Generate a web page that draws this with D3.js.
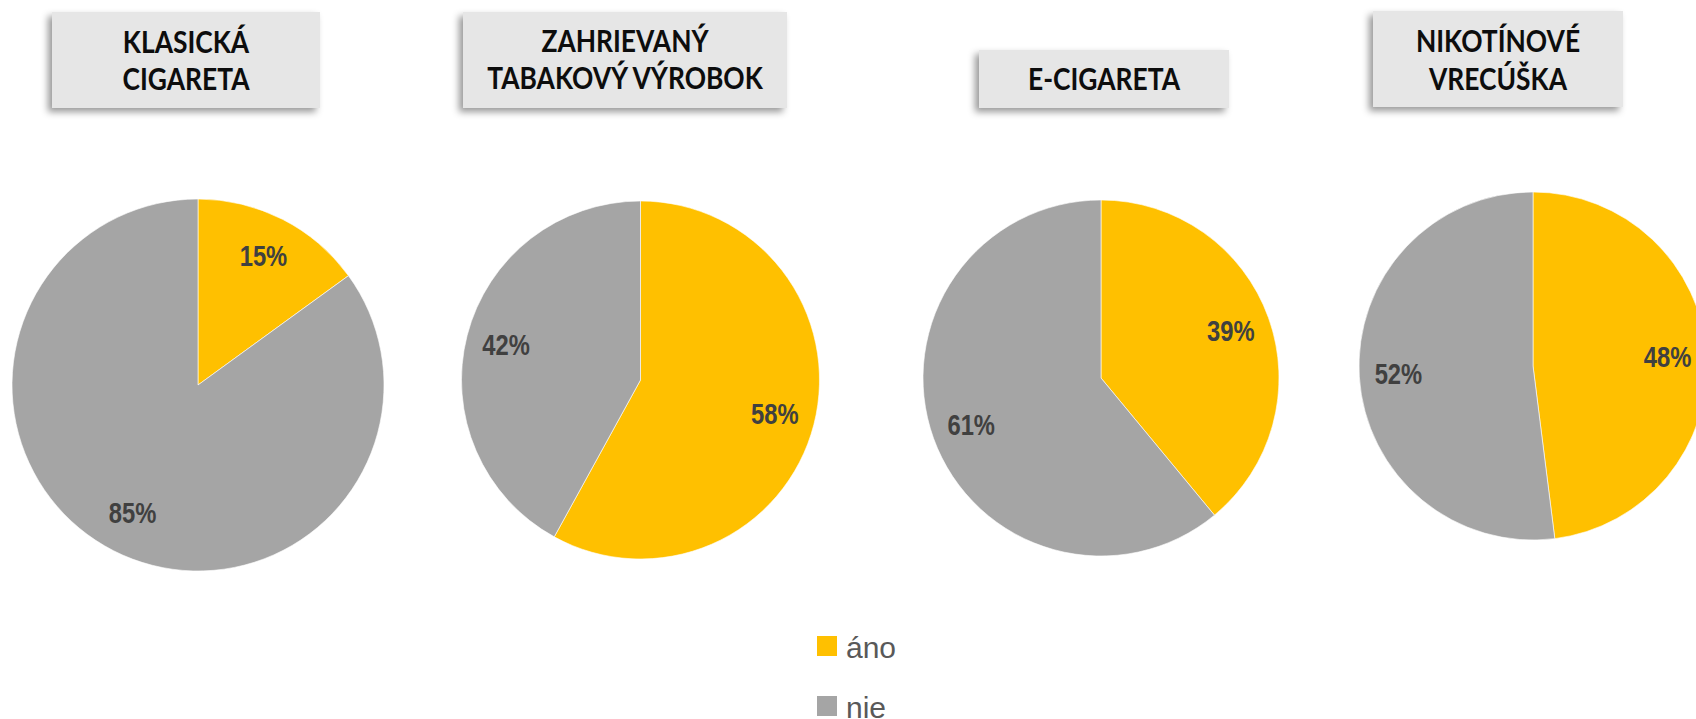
<!DOCTYPE html>
<html>
<head>
<meta charset="utf-8">
<script src="https://cdn.jsdelivr.net/npm/d3@7/dist/d3.min.js"></script>
<style>
  html, body { margin: 0; padding: 0; background: #fff; }
  svg { display: block; }
</style>
</head>
<body>
<svg id="chart" width="1696" height="719"></svg>
<script>
// Products shown, one pie each
const titles = [
  ["KLASICKÁ", "CIGARETA"],
  ["ZAHRIEVANÝ", "TABAKOVÝ VÝROBOK"],
  ["E-CIGARETA"],
  ["NIKOTÍNOVÉ", "VRECÚŠKA"]
];
// Answer categories
const categories = ["áno", "nie"];
// Share of answers, in percent
const anoValues = [15, 58, 39, 48];
const nieValues = [85, 42, 61, 52];

const colors = d3.scaleOrdinal().domain(categories).range(["#FFC000", "#A5A5A5"]);

// Placement of each pie and its title box
const layout = [
  { cx: 198,  cy: 385, r: 186, box: { x: 52,  y: 12, w: 268, h: 96 }, base: [53, 90] },
  { cx: 640.5, cy: 380, r: 179, box: { x: 463, y: 12, w: 324, h: 96 }, base: [52, 89] },
  { cx: 1101, cy: 378, r: 178, box: { x: 979, y: 50, w: 250, h: 58 }, base: [90] },
  { cx: 1533, cy: 366, r: 174, box: { x: 1373, y: 11, w: 250, h: 96 }, base: [52, 90] }
];

const svg = d3.select("#chart");

const defs = svg.append("defs");
const shadow = defs.append("filter").attr("id", "boxShadow")
  .attr("x", "-10%").attr("y", "-20%").attr("width", "120%").attr("height", "150%");
shadow.append("feDropShadow")
  .attr("dx", -4).attr("dy", 4).attr("stdDeviation", 3.5)
  .attr("flood-color", "#000").attr("flood-opacity", 0.4);

const pie = d3.pie().sort(null).value(d => d.value);

titles.forEach((lines, i) => {
  const L = layout[i];
  const data = categories.map((c, k) => ({ cat: c, value: k === 0 ? anoValues[i] : nieValues[i] }));
  const arc = d3.arc().innerRadius(0).outerRadius(L.r);
  const labelArc = d3.arc().innerRadius(L.r * 0.775).outerRadius(L.r * 0.775);

  const g = svg.append("g").attr("transform", `translate(${L.cx},${L.cy})`);
  const slices = pie(data);

  g.selectAll("path.slice").data(slices).join("path")
    .attr("class", "slice")
    .attr("d", arc)
    .attr("fill", d => colors(d.data.cat))
    .attr("stroke", "#ffffff")
    .attr("stroke-width", 0.6);

  // Value labels in a condensed bold face
  g.selectAll("text.val").data(slices).join("text")
    .attr("class", "val")
    .attr("transform", d => `translate(${labelArc.centroid(d)}) scale(0.82,1)`)
    .attr("text-anchor", "middle")
    .attr("dy", "0.34em")
    .attr("font-family", "'Liberation Sans', Arial, sans-serif")
    .attr("font-weight", "bold")
    .attr("font-size", 29)
    .attr("fill", "#404040")
    .text(d => d.data.value + "%");

  // Title box
  const tb = svg.append("g");
  tb.append("rect")
    .attr("x", L.box.x).attr("y", L.box.y)
    .attr("width", L.box.w).attr("height", L.box.h)
    .attr("fill", "#E6E6E6")
    .attr("filter", "url(#boxShadow)");
  const tx = L.box.x + L.box.w / 2;
  lines.forEach((t, j) => {
    tb.append("text")
      .attr("transform", `translate(${tx},${L.base[j]}) scale(0.88,1)`)
      .attr("text-anchor", "middle")
      .attr("font-family", "Lato, 'Open Sans', sans-serif")
      .attr("font-weight", "bold")
      .attr("font-size", 30)
      .attr("fill", "#0d0d0d")
      .text(t);
  });
});

// Legend
const legend = svg.append("g").attr("transform", "translate(817,636)");
const items = legend.selectAll("g").data(categories).join("g")
  .attr("transform", (d, i) => `translate(0,${i * 60})`);
items.append("rect")
  .attr("width", 20).attr("height", 20)
  .attr("fill", d => colors(d));
items.append("text")
  .attr("x", 29).attr("y", 22)
  .attr("font-family", "'Liberation Sans', Arial, sans-serif")
  .attr("font-size", 30)
  .attr("fill", "#595959")
  .text(d => d);
</script>
</body>
</html>
